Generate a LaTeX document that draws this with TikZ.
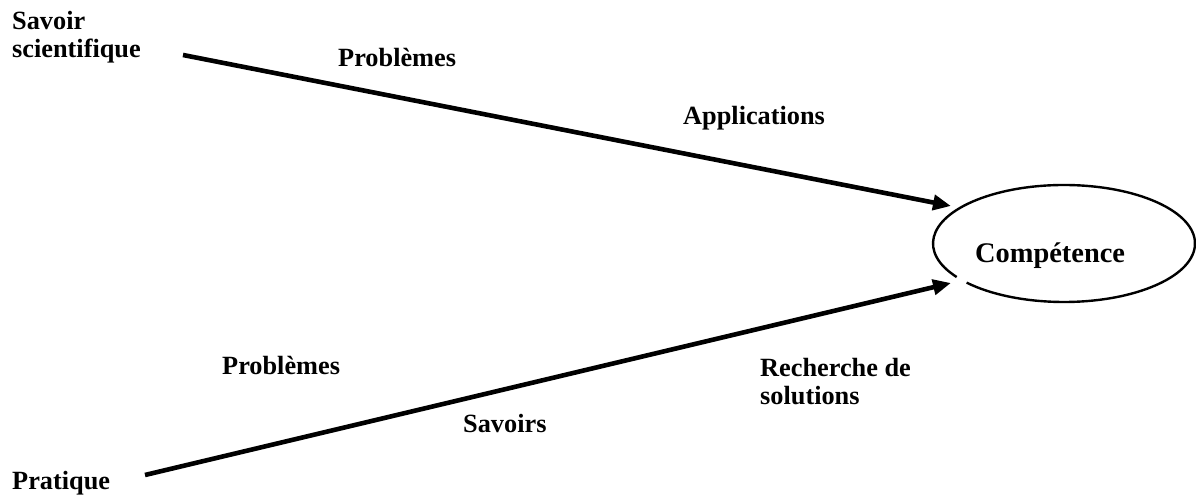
\documentclass[tikz,border=0pt]{standalone}
\usepackage{fontspec}
\setmainfont{Liberation Serif}
\usetikzlibrary{arrows.meta,shapes.geometric}
\begin{document}
\begin{tikzpicture}[x=1pt,y=1pt,
  lbl/.style={anchor=base west,inner sep=0pt,align=left,
    font=\bfseries\fontsize{26.3}{28.5}\selectfont},
  flow/.style={line width=4.6pt,-{Triangle[length=18pt,width=15pt]}},
  ring/.style={line width=2.4pt}]
\useasboundingbox (0,0) rectangle (1196,497);

% labels (two-line labels are placed by the baseline of their last line)
\node[lbl] (ss) at (12,439) {Savoir\\scientifique};
\node[lbl] (p1) at (338,430) {Problèmes};
\node[lbl] (ap) at (683,372) {Applications};
\node[lbl] (p2) at (222,122) {Problèmes};
\node[lbl] (rs) at (760,92) {Recherche de\\solutions};
\node[lbl] (sv) at (463,64) {Savoirs};
\node[lbl] (pr) at (12,7) {Pratique};

% the competence ellipse, open where the lower arrow meets it
\node[ellipse,minimum width=262pt,minimum height=117pt,inner sep=0pt]
  (comp) at (1064,253.5) {};
\node[anchor=base west,inner sep=0pt,font=\bfseries\fontsize{28.4}{30}\selectfont]
  (ct) at (975,234) {Compétence};
\draw[ring] ([shift={(222:131 and 58.5)}]comp.center)
  arc[start angle=222,end angle=575,x radius=131,y radius=58.5];

% arrows
\coordinate (s1) at (183,442);
\coordinate (e1) at (951,291);
\coordinate (s2) at (145,22);
\coordinate (e2) at (951,214);
\draw[flow] (s1) -- (e1);
\draw[flow] (s2) -- (e2);
\end{tikzpicture}
\end{document}
